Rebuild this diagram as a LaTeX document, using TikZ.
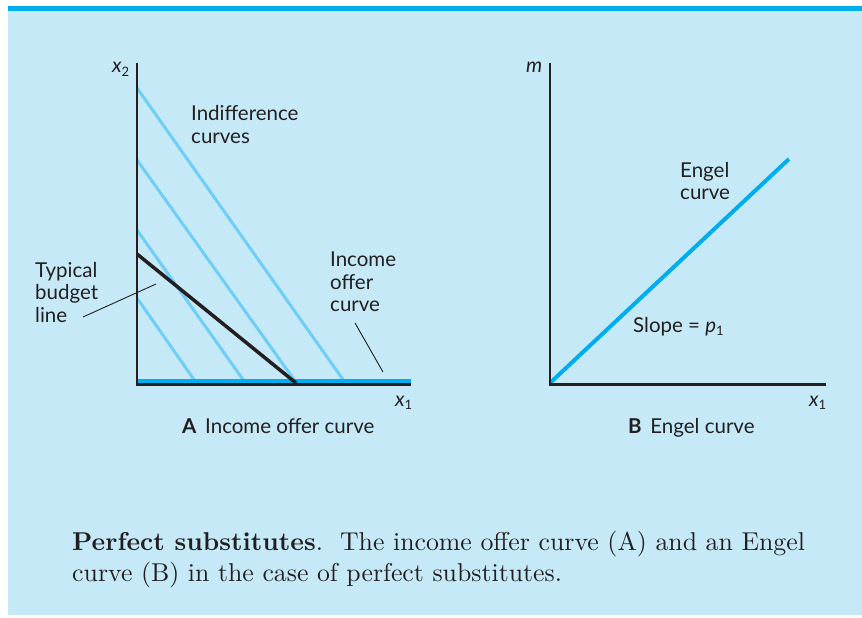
\documentclass[tikz,border=0pt]{standalone}
\usepackage{fontspec}
\newfontfamily\labfont{Lato}
\newfontfamily\capfont{lmroman10-regular.otf}[BoldFont=lmroman10-bold.otf]
\definecolor{bgblue}{HTML}{C6E9F8}
\definecolor{topblue}{HTML}{00AEEF}
\definecolor{icblue}{HTML}{6DCFF6}
\definecolor{ink}{HTML}{231F20}
\begin{document}
\begin{tikzpicture}[x=1pt,y=-1pt,
  lab/.style={font=\labfont\fontsize{20.5}{22.5}\selectfont, text=ink, inner sep=0pt, align=left},
  axisline/.style={draw=ink, line width=2.6pt},
  icline/.style={draw=icblue, line width=3pt},
  offer/.style={draw=topblue, line width=3.5pt},
  budget/.style={draw=ink, line width=3.5pt},
  leader/.style={draw=ink, line width=0.9pt},
  captext/.style={font=\capfont\fontsize{25.8}{30}\selectfont, text=ink, inner sep=0pt, align=left}]
\useasboundingbox (0,0) rectangle (862,618);
\fill[bgblue] (8,11) rectangle (862,615);
\fill[topblue] (8,6) rectangle (862,11);
% ---------- Panel A ----------
\coordinate (ya) at (137,63);
\coordinate (oa) at (137,384.5);
\coordinate (xa) at (411,384.5);
\coordinate (ob) at (137,381);
\coordinate (ofend) at (411,381);
\coordinate (i1s) at (137,88);  \coordinate (i1e) at (344,381);
\coordinate (i2s) at (137,160); \coordinate (i2e) at (295,381);
\coordinate (i3s) at (137,230); \coordinate (i3e) at (244,381);
\coordinate (i4s) at (137,298); \coordinate (i4e) at (195,381);
\coordinate (bs) at (137,254);  \coordinate (be) at (296,383);
\draw[icline] (i1s) -- (i1e);
\draw[icline] (i2s) -- (i2e);
\draw[icline] (i3s) -- (i3e);
\draw[icline] (i4s) -- (i4e);
\draw[offer] (ob) -- (ofend);
\draw[budget] (bs) -- (be);
\draw[axisline] (ya) -- (oa) -- (xa);
\node[lab, anchor=north west] (indiff) at (191,105.5) {Indifference\\curves};
\node[lab, anchor=north west] (typ) at (35,262) {Typical\\budget\\line};
\node[lab, anchor=north west] (inc) at (330,252) {Income\\offer\\curve};
\coordinate (tl1) at (83,317); \coordinate (tl2) at (156,284);
\coordinate (il1) at (355,323); \coordinate (il2) at (383,372);
\draw[leader] (tl1) -- (tl2);
\draw[leader] (il1) -- (il2);
\node[lab, anchor=base west] (x2a) at (112,73) {\itshape x\upshape\raisebox{-0.35ex}{\fontsize{13}{13}\selectfont 2}};
\node[lab, anchor=base west] (x1a) at (395,406) {\itshape x\upshape\raisebox{-0.35ex}{\fontsize{13}{13}\selectfont 1}};
\node[lab, anchor=base west] (capa) at (182,433) {\textbf{A}\ \,Income offer curve};
% ---------- Panel B ----------
\coordinate (yb) at (550,63);
\coordinate (obb) at (550,384.5);
\coordinate (xb) at (826,384.5);
\coordinate (es) at (550,383);
\coordinate (ee) at (789,159);
\draw[draw=topblue, line width=4pt] (es) -- (ee);
\draw[axisline] (yb) -- (obb) -- (xb);
\node[lab, anchor=base west] (mb) at (526,73) {\itshape m};
\node[lab, anchor=base west] (x1b) at (809,406) {\itshape x\upshape\raisebox{-0.35ex}{\fontsize{13}{13}\selectfont 1}};
\node[lab, anchor=north west] (engel) at (680,162) {Engel\\curve};
\node[lab, anchor=base west] (slope) at (633,332) {Slope = \itshape p\upshape\raisebox{-0.35ex}{\fontsize{13}{13}\selectfont 1}};
\node[lab, anchor=base west] (capb) at (628,433) {\textbf{B}\ \,Engel curve};
% ---------- Caption ----------
\node[captext, anchor=base west] (c1) at (72,550) {\textbf{Perfect substitutes}.\ \ The income offer curve (A) and an Engel};
\node[captext, anchor=base west] (c2) at (72,581) {curve (B) in the case of perfect substitutes.};
\end{tikzpicture}
\end{document}
